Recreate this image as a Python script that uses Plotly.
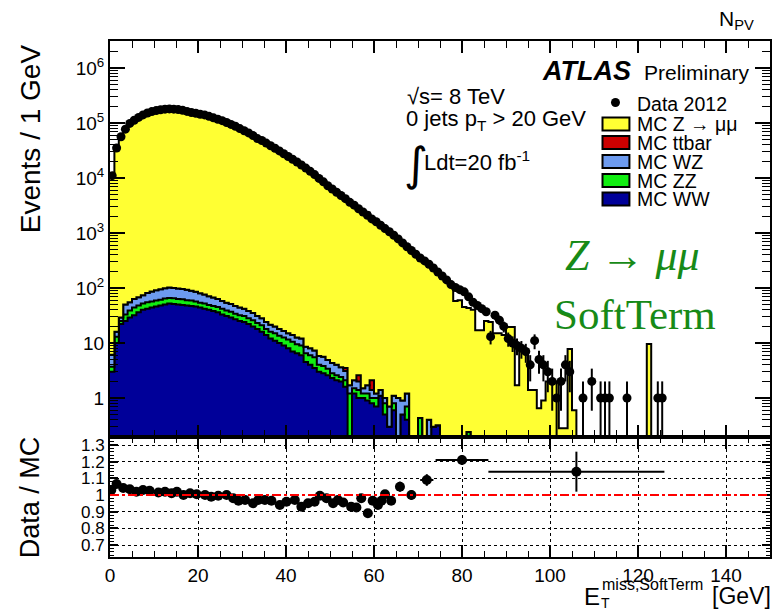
import numpy as np
import plotly.graph_objects as go

# ---------------- data ----------------
# 1 GeV bins, lower edges 0 .. 125
data_counts = [
    11000, 35000, 56000, 77000, 98000, 112000, 126000, 140000, 152000, 161000,
    168000, 174000, 178000, 180000, 178000, 175000, 170000, 162000, 155000, 150000,
    144000, 140000, 132000, 124000, 117000, 110000, 102000, 94000, 87000, 79000,
    72000, 66000, 59000, 52000, 48000, 43000, 38500, 34700, 31000, 27500,
    24500, 21900, 19500, 17200, 15100, 13200, 11500, 9800, 8500, 7200,
    6300, 5500, 4800, 4200, 3600, 3200, 2750, 2400, 2100, 1800,
    1600, 1380, 1200, 1050, 910, 780, 660, 560, 480, 410,
    350, 310, 270, 230, 195, 165, 140, 115, 102, 93,
    85, 69, 55, 48, 42, 37, 13, 32, 26, 20,
    12, 10, 9, 8, 7, 4, 11, 5, 4, 3,
    2, 1, 2, 4, 3, 0, 0, 1, 0, 2,
    0, 1, 1, 1, 0, 0, 0, 1, 0, 0,
    0, 0, 0, 0, 1, 1]

mc_zmumu = [
    10700, 32800, 53300, 73900, 94700, 108700, 123500, 135900, 148300, 157100,
    165500, 171400, 174500, 178200, 176200, 171600, 170000, 161200, 153500, 149300,
    144000, 140000, 133300, 125300, 117600, 110500, 102000, 95900, 89200, 81900,
    74200, 68700, 62100, 53900, 49500, 44300, 39900, 36300, 33000, 28900,
    25500, 22700, 20100, 18500, 16100, 13900, 12000, 9900, 8600, 7350,
    6560, 5730, 4950, 4400, 3830, 3440, 2970, 2450, 2360, 1865,
    1700, 1430, 1200, 1090, 940, 740, 620, 560, 480, 410,
    340, 300, 255, 220, 190, 160, 135, 115, 58, 60,
    45, 43, 40, 17, 17, 25, 24, 15, 15, 14,
    19.5, 19.5, 1.7, 7.5, 7.5, 1.4, 1.4, 0.65, 0.9, 2,
    2, 2, 0.28, 0.28, 7.8, 0.6, 0, 0, 0, 0,
    0, 0, 0, 0, 0, 0, 0, 0, 0, 0,
    0, 0, 9.6, 0, 0, 0]

mc_ww = [
    3, 10, 22, 25, 29, 32, 36, 40, 42, 44,
    46, 48, 50, 52, 51, 50, 49, 48, 47, 46,
    44, 42, 40, 38, 36, 33, 31, 29, 27, 25,
    24, 22, 20, 18, 16, 14, 12, 11, 10, 9,
    8, 7, 6.5, 6, 4.5, 4, 3.5, 3, 2.8, 2.6,
    2.3, 2.1, 2.0, 1.6, 0, 1.2, 1.0, 1.0, 0.9, 0.8,
    0.7, 1.1, 0.5, 0.3, 0.6, 0, 0.5, 0.4, 0, 0,
    0, 0, 0, 0.3, 0.32, 0, 0, 0, 0, 0]

mc_zz = [
    0.7, 3, 3, 8, 10, 12, 12, 12, 13, 13,
    13, 13, 14, 14, 14, 13, 13, 12, 12, 11,
    10, 10, 9, 9, 9, 9, 8, 8, 7, 7,
    7, 6, 6, 5, 5, 4, 4, 4, 3.5, 3.5,
    3.5, 3.5, 3, 3, 2, 2, 2, 1, 1, 0.8,
    0.5, 0.5, 0.4, 0.5, 1.2, 0.3, 0.4, 0.2, 0.3, 0.2,
    0.3, 0, 0.3, 0, 0.2, 0.2, 0, 0.3, 0, 0,
    0.43, 0, 0, 0, 0, 0, 0, 0, 0, 0,
    0, 0.24]

mc_wz = [
    2.4, 3, 4, 17, 16, 19, 20, 22, 26, 29,
    32, 34, 35, 36, 35, 35, 34, 33, 30, 28,
    26, 24, 22, 20, 18, 16, 15, 14, 13, 12,
    11, 10, 9, 8, 7, 6, 5.5, 5, 4.5, 4,
    3.5, 3.5, 3, 3, 2, 2, 1.8, 1.8, 1.8, 1.5,
    1.5, 1.4, 1.2, 1, 0.5, 0.6, 0.6, 0.3, 0.5, 0.4,
    0.2, 0.3, 0.2, 0.4, 0.3, 0.8, 0.4, 0.5, 0, 0,
    0, 0, 0.4]

mc_ttbar = [0] * 53 + [0.4, 0, 0, 0.6, 0, 0, 0.7]

# Data / MC ratio panel
ratio_x = [0.3, 1.5, 3.0, 4.5, 6.0, 7.5, 9.0, 11.0, 12.5, 14.0,
           15.2, 16.7, 18.2, 19.7, 21.6, 23.0, 24.6, 26.5, 28.0, 29.2,
           30.7, 32.5, 33.7, 35.2, 36.7, 38.6, 40.1, 42.0, 43.5, 45.0,
           46.5, 47.7, 49.2, 50.7, 51.8, 53.0, 54.8, 56.0, 57.1, 58.6,
           59.7, 60.9, 61.7, 62.5, 63.9, 65.9, 68.5, 72.0, 80.0, 106.0]
ratio_y = [1.03, 1.066, 1.042, 1.035, 1.02, 1.03, 1.025, 1.015, 1.02, 1.01,
           1.02, 1.0, 1.01, 1.005, 1.0, 0.99, 0.995, 1.0, 0.98, 0.965,
           0.97, 0.95, 0.97, 0.97, 0.965, 0.94, 0.96, 0.97, 0.93, 0.95,
           0.96, 0.995, 0.98, 0.95, 0.97, 0.955, 0.93, 0.925, 0.98, 0.89,
           0.965, 0.94, 0.965, 1.005, 0.965, 1.05, 1.0, 1.09, 1.21, 1.14]
ratio_yerr = [0.004] * 30 + [0.006] * 9 + [0.015, 0.015, 0.02, 0.02, 0.02, 0.02,
                                          0.03, 0.03, 0.035, 0.03, 0.12]
ratio_xerr = [0] * 46 + [1.0, 1.5, 6.0, 20.0]

x_ticks = [0, 20, 40, 60, 80, 100, 120, 140]

# ---------------- helpers ----------------
NB = len(data_counts)
edges = np.arange(NB + 1)
centers = edges[:-1] + 0.5


def pad(a):
    a = list(a) + [0] * (NB - len(a))
    return np.array(a, dtype=float)


ww = pad(mc_ww)
zz = pad(mc_zz)
wz = pad(mc_wz)
tt = pad(mc_ttbar)
zm = pad(mc_zmumu)
c1 = ww
c2 = c1 + zz
c3 = c2 + wz
c4 = c3 + tt
c5 = c4 + zm

FLOOR = 1e-4


def step_y(v):
    v = np.where(v > 0, v, FLOOR)
    return list(v) + [v[-1]]


W, H = 774, 613
L, R, T, B = 110, 2, 41, 56
PW, PH = W - L - R, H - T - B
SPLIT = (557 - 437) / PH


def px(x):
    return (x - L) / PW


def py(y):
    return (H - B - y) / PH


FONT = "Liberation Sans, Arial, Helvetica, sans-serif"
SERIF = "Liberation Serif, Times New Roman, serif"

fig = go.Figure()

fig.add_trace(go.Scatter(x=list(edges), y=[FLOOR] * (NB + 1), mode="lines",
                         line=dict(width=0), hoverinfo="skip", showlegend=False))

layers = [(c1, "#000099"), (c2, "#11ee11"), (c3, "#6d9bf0"),
          (c4, "#cc0000"), (c5, "#ffff33")]
for vals, col in layers:
    fig.add_trace(go.Scatter(x=list(edges), y=step_y(vals), mode="lines",
                             line=dict(shape="hv", color="black", width=2),
                             fill="tonexty", fillcolor=col,
                             hoverinfo="skip", showlegend=False))

d = np.array(data_counts, dtype=float)
mask = d > 0
dx = centers[mask]
dy = d[mask]
err_up = np.sqrt(dy)
err_dn = np.minimum(np.sqrt(dy), dy * 0.9999)
fig.add_trace(go.Scatter(x=dx, y=dy, mode="markers",
                         marker=dict(color="black", size=9),
                         error_y=dict(type="data", array=err_up, arrayminus=err_dn,
                                      color="black", thickness=2, width=0),
                         showlegend=False))

fig.add_trace(go.Scatter(x=ratio_x, y=ratio_y, mode="markers", xaxis="x2", yaxis="y2",
                         marker=dict(color="black", size=10),
                         error_y=dict(type="data", array=ratio_yerr, color="black",
                                      thickness=2, width=0),
                         error_x=dict(type="data", array=ratio_xerr, color="black",
                                      thickness=2, width=0),
                         showlegend=False))

fig.add_shape(type="line", xref="x2", yref="y2", x0=0, x1=150, y0=1, y1=1,
              line=dict(color="red", width=2, dash="dashdot"))

axis_common = dict(showline=True, linecolor="black", linewidth=2, mirror="allticks",
                   ticks="inside", tickcolor="black", zeroline=False,
                   tickfont=dict(family=FONT, size=19, color="black"))

minor_log = [m * 10.0 ** k for k in range(-1, 7) for m in range(2, 10)]

fig.update_layout(
    width=W, height=H,
    margin=dict(l=L, r=R, t=T, b=B),
    paper_bgcolor="white", plot_bgcolor="white",
    showlegend=False,
    xaxis=dict(domain=[0, 1], anchor="y", range=[0, 150], matches="x2",
               showticklabels=False, tickmode="array", tickvals=x_ticks,
               ticklen=12, tickwidth=1.5, showgrid=False,
               minor=dict(dtick=5, tick0=0, ticks="inside", ticklen=7,
                          tickcolor="black", tickwidth=1),
               **axis_common),
    yaxis=dict(domain=[SPLIT, 1], anchor="x", type="log", range=[-0.71, 6.49],
               tickmode="array", tickvals=[1, 10, 100, 1e3, 1e4, 1e5, 1e6],
               ticktext=["1", "10", "10<sup>2</sup>", "10<sup>3</sup>",
                         "10<sup>4</sup>", "10<sup>5</sup>", "10<sup>6</sup>"],
               ticklen=15, tickwidth=1.5, showgrid=False,
               minor=dict(tickmode="array", tickvals=minor_log, ticks="inside",
                          ticklen=8, tickcolor="black", tickwidth=1),
               **axis_common),
    xaxis2=dict(domain=[0, 1], anchor="y2", range=[0, 150],
                tickmode="array", tickvals=x_ticks,
                ticklen=12, tickwidth=1.5,
                showgrid=True, gridcolor="black", gridwidth=1, griddash="dot",
                minor=dict(dtick=5, tick0=0, ticks="inside", ticklen=6,
                           tickcolor="black", tickwidth=1),
                **axis_common),
    yaxis2=dict(domain=[0, SPLIT], anchor="x2", range=[0.628, 1.348],
                tick0=0.7, dtick=0.1, ticklen=8, tickwidth=1.5,
                showgrid=True, gridcolor="black", gridwidth=1, griddash="dot",
                minor=dict(dtick=0.02, tick0=0.7, ticks="inside", ticklen=4,
                           tickcolor="black", tickwidth=1),
                **{**axis_common, "tickfont": dict(family=FONT, size=17, color="black")}),
)


def note(text, x, y, size, xanchor="left", yanchor="middle", family=FONT,
         color="black", angle=0):
    fig.add_annotation(text=text, x=px(x), y=py(y), xref="paper", yref="paper",
                       xanchor=xanchor, yanchor=yanchor, showarrow=False,
                       font=dict(family=family, size=size, color=color),
                       textangle=angle)


# header / labels
note("N<sub>PV</sub>", 758, 20, 21, xanchor="right")
note("<b><i>ATLAS</i></b>", 541, 71, 27)
note("Preliminary", 644, 72, 21)
note("√s= 8 TeV", 406, 97, 22)
note("0 jets p<sub>T</sub> &gt; 20 GeV", 405, 120, 22)
note("∫", 403, 164, 46, family="DejaVu Sans, sans-serif")
note("Ldt=20 fb<sup>-1</sup>", 423, 161, 22)

# legend
fig.add_shape(type="circle", xref="paper", yref="paper",
              x0=px(612.5), x1=px(621.5), y0=py(98), y1=py(107),
              fillcolor="black", line=dict(color="black", width=0))
note("Data 2012", 637, 104, 19.5)
leg = [("MC Z → μμ", "#ffff33", 124), ("MC ttbar", "#cc0000", 142.5),
       ("MC WZ", "#6d9bf0", 161.5), ("MC ZZ", "#11ee11", 180.5),
       ("MC WW", "#000099", 199)]
for lab, col, yc in leg:
    fig.add_shape(type="rect", xref="paper", yref="paper",
                  x0=px(604), x1=px(631), y0=py(yc + 6.5), y1=py(yc - 6.5),
                  fillcolor=col, line=dict(color="black", width=2))
    note(lab, 637, yc, 19.5)

# green channel text
note("<i>Z</i> → <i>μμ</i>", 634, 256, 44, xanchor="center", family=SERIF,
     color="#178a17")
note("SoftTerm", 637, 314, 43, xanchor="center", family=SERIF, color="#178a17")

# axis titles
note("Events / 1 GeV", 30, 139, 28, xanchor="center", angle=-90)
note("Data / MC", 30, 497, 27, xanchor="center", angle=-90)
note("E", 583, 596, 24)
note("T", 600, 603, 14)
note("miss,SoftTerm", 601, 584, 16)
note("[GeV]", 712, 596, 23)

fig.write_html("out.html")
